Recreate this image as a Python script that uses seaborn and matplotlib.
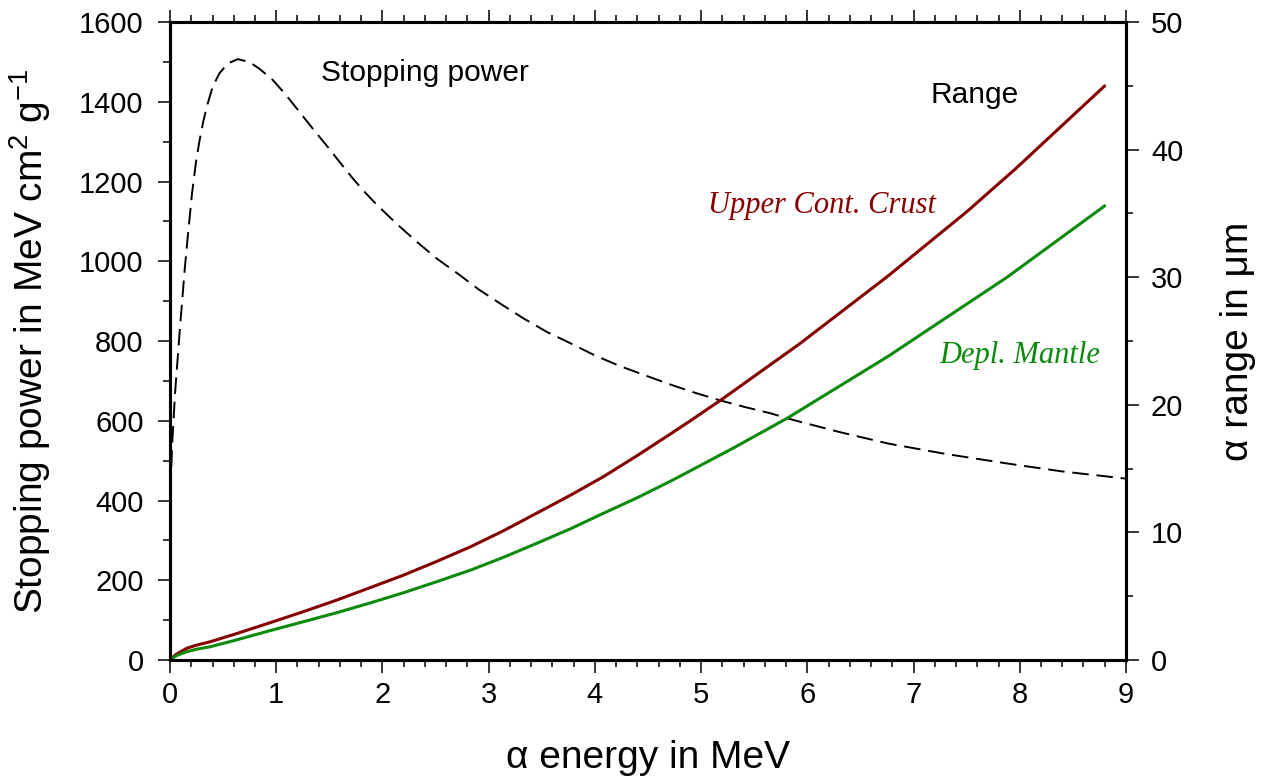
import pandas as pd
import seaborn as sns
import matplotlib.pyplot as plt
from matplotlib.ticker import MultipleLocator

# stopping power (left axis, MeV cm2 g-1)
sp_energy = [0.001, 0.003, 0.006, 0.01, 0.02, 0.047, 0.094, 0.14, 0.167, 0.207,
             0.245, 0.276, 0.314, 0.355, 0.402, 0.464, 0.543, 0.637, 0.747, 0.841,
             0.967, 1.092, 1.218, 1.343, 1.469, 1.594, 1.72, 1.846, 1.946, 2.134,
             2.323, 2.511, 2.715, 2.903, 3.114, 3.327, 3.547, 3.773, 3.992, 4.228,
             4.463, 4.699, 4.934, 5.169, 5.405, 5.65, 5.869, 6.3, 6.76, 7.3,
             7.88, 8.4, 9.0]
sp_values = [180, 300, 400, 470, 540, 668, 835, 985, 1062, 1170,
             1250, 1300, 1352, 1396, 1438, 1471, 1496, 1507, 1500, 1483,
             1455, 1417, 1375, 1333, 1292, 1250, 1208, 1170, 1142, 1094,
             1049, 1007, 968, 930, 893, 857, 823, 794, 765, 738,
             715, 692, 671, 652, 635, 619, 602, 572, 543, 517,
             493, 473, 455]

# alpha range (right axis, micrometres)
ucc_energy = [0, 0.05, 0.1, 0.157, 0.25, 0.377, 0.6, 0.94, 1.255, 1.57,
              1.883, 2.2, 2.511, 2.83, 3.139, 3.45, 3.766, 4.08, 4.394, 4.708,
              4.9, 5.19, 5.93, 6.76, 7.51, 7.96, 8.8]
ucc_range = [0, 0.4, 0.65, 0.92, 1.17, 1.43, 2.0, 2.92, 3.79, 4.70,
             5.67, 6.66, 7.73, 8.88, 10.13, 11.5, 12.9, 14.37, 16.0, 17.7,
             18.76, 20.4, 24.8, 30.1, 35.2, 38.5, 45.0]

dm_energy = [0, 0.05, 0.1, 0.157, 0.25, 0.377, 0.6, 0.94, 1.255, 1.57,
             1.883, 2.2, 2.511, 2.83, 3.139, 3.45, 3.766, 4.08, 4.394, 4.708,
             4.9, 5.3, 5.81, 6.76, 7.88, 8.8]
dm_range = [0, 0.3, 0.48, 0.65, 0.85, 1.04, 1.52, 2.30, 3.0, 3.71,
            4.47, 5.28, 6.14, 7.05, 8.05, 9.14, 10.27, 11.5, 12.7, 14.0,
            14.84, 16.6, 18.95, 23.8, 30.0, 35.6]

dark_red = '#850000'
green = '#0b8a0b'

sns.set_theme(style='ticks')
plt.rcParams['font.family'] = ['Liberation Sans', 'DejaVu Sans']
plt.rcParams['mathtext.fontset'] = 'custom'
plt.rcParams['mathtext.rm'] = 'Liberation Sans'
plt.rcParams['mathtext.it'] = 'Liberation Sans:italic'
plt.rcParams['text.color'] = 'black'
plt.rcParams['axes.labelcolor'] = 'black'
plt.rcParams['xtick.color'] = 'black'
plt.rcParams['ytick.color'] = 'black'
plt.rcParams['axes.linewidth'] = 2.2

fig = plt.figure(figsize=(12.66, 7.8), dpi=100)
ax = fig.add_axes([0.1343, 0.1538, 0.7551, 0.8179])

sp = pd.DataFrame({'energy': sp_energy, 'power': sp_values})
sns.lineplot(data=sp, x='energy', y='power', ax=ax, color='black',
             linewidth=1.4, linestyle=(0, (8.5, 4)), errorbar=None)

ax.set_xlim(0, 9)
ax.set_ylim(0, 1600)
ax.xaxis.set_major_locator(MultipleLocator(1))
ax.xaxis.set_minor_locator(MultipleLocator(0.2))
ax.yaxis.set_major_locator(MultipleLocator(200))
ax.yaxis.set_minor_locator(MultipleLocator(100))
ax.tick_params(which='both', direction='out', top=True, right=False,
               labeltop=False, width=1.1, colors='black', labelsize=21)
ax.tick_params(which='major', length=9)
ax.tick_params(which='minor', length=5)
ax.tick_params(axis='y', pad=10)
ax.tick_params(axis='x', pad=6)

twin = ax.twinx()
ucc = pd.DataFrame({'energy': ucc_energy, 'range': ucc_range})
dm = pd.DataFrame({'energy': dm_energy, 'range': dm_range})
sns.lineplot(data=ucc, x='energy', y='range', ax=twin, color=dark_red,
             linewidth=2.2, errorbar=None)
sns.lineplot(data=dm, x='energy', y='range', ax=twin, color=green,
             linewidth=2.2, errorbar=None)
twin.set_ylim(0, 50)
twin.yaxis.set_major_locator(MultipleLocator(10))
twin.yaxis.set_minor_locator(MultipleLocator(5))
twin.tick_params(which='both', direction='out', width=1.1, colors='black',
                 labelsize=21, pad=9)
twin.tick_params(which='major', length=9)
twin.tick_params(which='minor', length=5)

for a in (ax, twin):
    for s in a.spines.values():
        s.set_linewidth(2.2)
        s.set_color('black')

ax.set_xlabel('α energy in MeV', fontsize=28)
ax.xaxis.set_label_coords(0.5, -0.1254)
ax.set_ylabel(r'Stopping power in MeV cm$^2$ g$^{-1}$', fontsize=28)
ax.yaxis.set_label_coords(-0.1224, 0.5)
twin.set_ylabel('α range in μm', fontsize=28)
twin.yaxis.set_label_coords(1.098, 0.5)

ax.text(2.398, 1451, 'Stopping power', fontsize=21.5, ha='center', va='baseline')
ax.text(7.575, 1396, 'Range', fontsize=21.5, ha='center', va='baseline')
ax.text(6.14, 1120, 'Upper Cont. Crust', family='Liberation Serif', style='italic',
        fontsize=22, color=dark_red, ha='center', va='baseline')
ax.text(7.999, 745.6, 'Depl. Mantle', family='Liberation Serif', style='italic',
        fontsize=22, color=green, ha='center', va='baseline')

fig.savefig('out.png', dpi=100)
